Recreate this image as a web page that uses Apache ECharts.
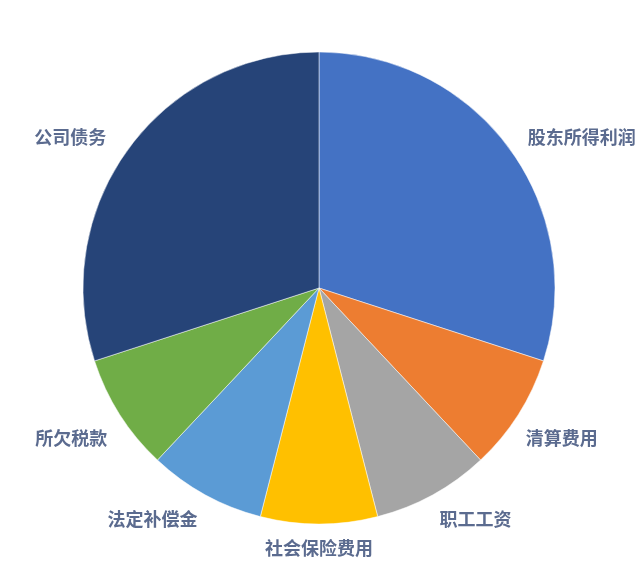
<!DOCTYPE html>
<html>
<head>
<meta charset="utf-8">
<script src="https://cdn.jsdelivr.net/npm/echarts@6/dist/echarts.min.js"></script>
<style>
html,body{margin:0;padding:0;background:#fff;}
#chart{width:640px;height:578px;}
</style>
</head>
<body>
<div id="chart"></div>
<script>
const categories = ['股东所得利润', '清算费用', '职工工资', '社会保险费用', '法定补偿金', '所欠税款', '公司债务'];
const values = [30, 8, 8, 8, 8, 8, 30];
const colors = ['#4472C4', '#ED7D31', '#A5A5A5', '#FFC000', '#5B9BD5', '#70AD47', '#264478'];

// small label nudges (style only) to mimic the original placement
const labelNudgeX = [0, -11, -6, -5, 5, 6, -4];
const labelNudgeY = [-3, 15, 10, 8, 10, 15, -3];

const chart = echarts.init(document.getElementById('chart'), null, {renderer: 'canvas'});
chart.setOption({
  backgroundColor: '#ffffff',
  animation: false,
  series: [{
    type: 'pie',
    center: [319, 288],
    radius: [0, 236],
    startAngle: 90,
    clockwise: true,
    avoidLabelOverlap: false,
    data: categories.map((c, i) => ({name: c, value: values[i], itemStyle: {color: colors[i]}})),
    itemStyle: {borderColor: '#ffffff', borderWidth: 0.5},
    label: {
      show: true,
      position: 'outside',
      formatter: '{b}',
      color: '#5b6b8f',
      fontSize: 18,
      fontWeight: 'bold',
      fontFamily: '"Noto Sans CJK SC", sans-serif',
      distanceToLabelLine: 5
    },
    labelLine: {show: false, length: 16, length2: 0},
    labelLayout: function (params) {
      const i = params.dataIndex;
      const out = {dx: labelNudgeX[i], dy: labelNudgeY[i]};
      if (i === 3) out.align = 'center';
      return out;
    },
    emphasis: {disabled: true}
  }]
});
</script>
</body>
</html>
